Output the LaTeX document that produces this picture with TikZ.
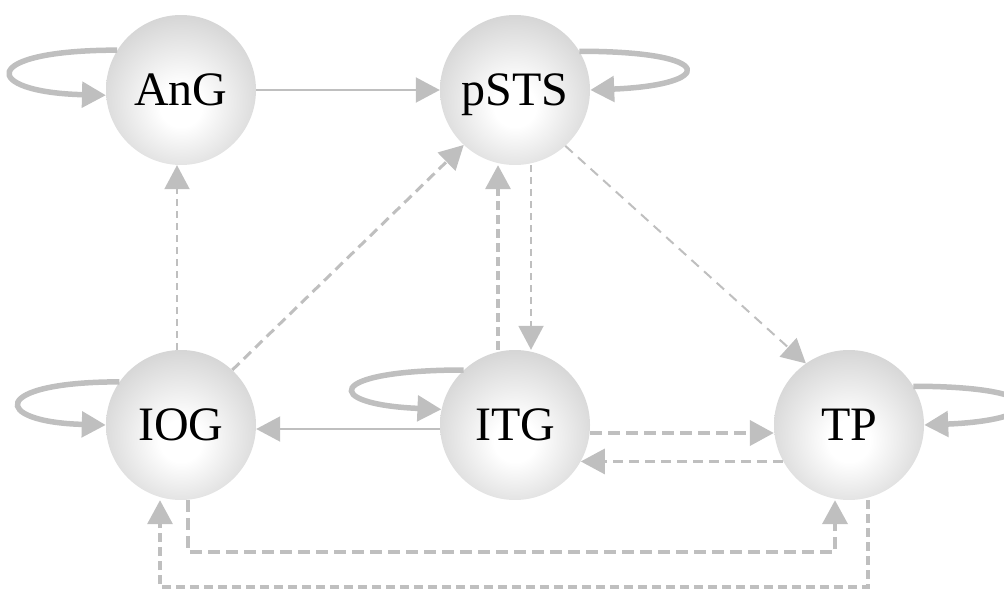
\documentclass[tikz,border=0pt]{standalone}
\usepackage{fontspec}
\setmainfont{Liberation Serif}
\usetikzlibrary{arrows.meta,calc}
\definecolor{lc}{HTML}{BFBFBF}
\definecolor{sphereedge}{HTML}{C4C4C4}
\definecolor{spheremid}{HTML}{DEDEDE}
\pgfdeclareradialshading{sphereshade}{\pgfpoint{0bp}{-6bp}}{color(0bp)=(white); color(7bp)=(white); color(24bp)=(spheremid); color(37bp)=(sphereedge); color(60bp)=(sphereedge)}
\begin{document}
\begin{tikzpicture}[x=1pt,y=1pt,
  region/.style={circle, minimum size=150pt, inner sep=0pt, shading=sphereshade,
    font=\fontsize{48}{48}\selectfont, text height=31pt, text depth=0pt},
  tipp/.style={-{Triangle[length=24pt,width=25pt]}},
  selfloop/.style={draw=lc, line width=5.5pt, tipp},
  solidthin/.style={draw=lc, line width=2pt, tipp},
  dthin/.style={draw=lc, line width=2pt, dash pattern=on 7pt off 5pt, tipp},
  dthinb/.style={draw=lc, line width=2pt, dash pattern=on 10pt off 7pt, tipp},
  dmid/.style={draw=lc, line width=3pt, dash pattern=on 10pt off 6pt, tipp},
  dmidthick/.style={draw=lc, line width=3.5pt, dash pattern=on 9pt off 5pt, tipp},
  dthick/.style={draw=lc, line width=4pt, dash pattern=on 12pt off 6pt, tipp},
]
\path[use as bounding box] (0,0) rectangle (1004,-589);
\clip (0,0) rectangle (1004,-589);

\node[region] (AnG) at (181,-90) {AnG};
\node[region] (pSTS) at (515,-90) {pSTS};
\node[region] (IOG) at (181,-425) {IOG};
\node[region] (ITG) at (515,-425) {ITG};
\node[region] (TP) at (849,-425) {TP};

% self loops
\draw[selfloop] (AnG.148) .. controls +(-140,0) and +(-125,3) .. (AnG.184);
\draw[selfloop] (pSTS.31) .. controls +(140,0) and +(125,5) .. (pSTS.0);
\draw[selfloop] (IOG.145) .. controls +(-130,0) and +(-115,3) .. (IOG.180);
\draw[selfloop] (ITG.133) .. controls +(-140,0) and +(-120,5) .. (ITG.168);
\draw[selfloop] (TP.31) .. controls +(140,0) and +(125,5) .. (TP.0);

% edges
\draw[solidthin] (AnG.east) -- (pSTS.west);
\draw[dthin] ([xshift=-4pt]IOG.north) -- ([xshift=-4pt]AnG.south);
\draw[dmid] (IOG.47) -- (pSTS.227);
\draw[dmidthick] ([xshift=-17pt]ITG.north) -- ([xshift=-17pt]pSTS.south);
\draw[dthin] ([xshift=16pt]pSTS.south) -- ([xshift=16pt]ITG.north);
\draw[dthinb] (pSTS.-48) -- (TP.125);
\draw[solidthin] ([yshift=-4pt]ITG.west) -- ([yshift=-4pt]IOG.east);
\draw[dthick] ([yshift=-8pt]ITG.east) -- ([yshift=-8pt]TP.west);
\draw[dmid] (TP.209.6) -- (ITG.-29.6);
\draw[dthick] ([xshift=7pt]IOG.south) -- ++(0,-52) -| ([xshift=-14pt]TP.south);
\draw[dmidthick] ([xshift=19pt]TP.south) -- ++(0,-87) -| ([xshift=-21pt]IOG.south);
\end{tikzpicture}
\end{document}
